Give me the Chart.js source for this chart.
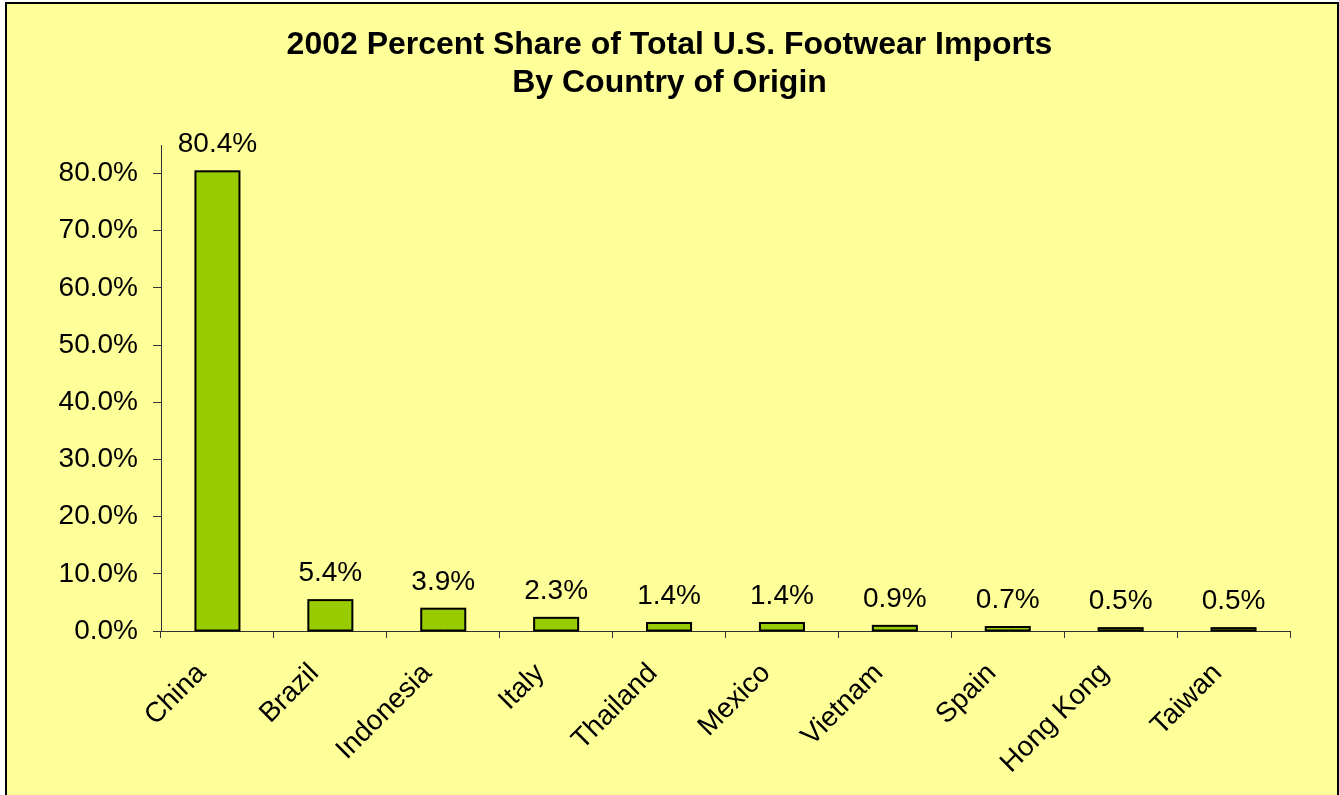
<!DOCTYPE html>
<html>
<head>
<meta charset="utf-8">
<script src="https://cdn.jsdelivr.net/npm/chart.js@4/dist/chart.umd.min.js"></script>
<style>
  html, body { margin: 0; padding: 0; background: #ffffff; }
  #wrap { width: 1339px; height: 795px; position: relative; }
</style>
</head>
<body>
<div id="wrap"><canvas id="c" width="1339" height="795"></canvas></div>
<script>
const categories = ['China', 'Brazil', 'Indonesia', 'Italy', 'Thailand', 'Mexico', 'Vietnam', 'Spain', 'Hong Kong', 'Taiwan'];
const shareValues = [80.4, 5.4, 3.9, 2.3, 1.4, 1.4, 0.9, 0.7, 0.5, 0.5];
const yTickValues = [0, 10, 20, 30, 40, 50, 60, 70, 80];
const titleLines = ['2002 Percent Share of Total U.S. Footwear Imports', 'By Country of Origin'];

const FONT = "'Liberation Sans', Arial, sans-serif";

const framePlugin = {
  id: 'frame',
  beforeDraw(chart) {
    const ctx = chart.ctx;
    ctx.save();
    ctx.fillStyle = '#ffffff';
    ctx.fillRect(0, 0, chart.width, chart.height);
    ctx.fillStyle = '#FFFF99';
    ctx.fillRect(6, 3, 1332, 800);
    ctx.strokeStyle = '#000000';
    ctx.lineWidth = 2;
    ctx.strokeRect(6, 3, 1332, 800);
    ctx.restore();
  }
};

// Excel-style bar outlines: stroke centred on each bar edge (from the library's bar geometry)
const barOutlinePlugin = {
  id: 'barOutline',
  afterDatasetsDraw(chart) {
    const ctx = chart.ctx;
    const meta = chart.getDatasetMeta(0);
    ctx.save();
    ctx.strokeStyle = '#000000';
    ctx.lineWidth = 2;
    meta.data.forEach((bar) => {
      const p = bar.getProps(['x', 'y', 'base', 'width'], true);
      ctx.strokeRect(p.x - p.width / 2, p.y, p.width, p.base - p.y);
    });
    ctx.restore();
  }
};

const valueLabelPlugin = {
  id: 'valueLabels',
  afterDatasetsDraw(chart) {
    const ctx = chart.ctx;
    const meta = chart.getDatasetMeta(0);
    ctx.save();
    ctx.font = '28px ' + FONT;
    ctx.fillStyle = '#000000';
    ctx.textAlign = 'center';
    ctx.textBaseline = 'alphabetic';
    meta.data.forEach((bar, i) => {
      const v = chart.data.datasets[0].data[i];
      ctx.fillText(v.toFixed(1) + '%', bar.x, bar.y - 19);
    });
    ctx.restore();
  }
};

new Chart(document.getElementById('c'), {
  type: 'bar',
  data: {
    labels: categories,
    datasets: [{
      data: shareValues,
      backgroundColor: '#99CC00',
      borderWidth: 0,
      inflateAmount: 0,
      categoryPercentage: 1.0,
      barPercentage: 0.39
    }]
  },
  options: {
    responsive: false,
    animation: false,
    devicePixelRatio: 1,
    layout: { padding: { left: 49, right: 49, top: 0, bottom: 0 } },
    plugins: {
      legend: { display: false },
      tooltip: { enabled: false },
      title: {
        display: true,
        text: titleLines,
        color: '#000000',
        font: { family: FONT, size: 32, weight: 'bold', lineHeight: 1.1875 },
        padding: { top: 26, bottom: 43 }
      }
    },
    scales: {
      x: {
        grid: { display: true, drawOnChartArea: false, drawTicks: true, tickLength: 7, color: '#333333', offset: true },
        border: { display: true, color: '#333333', width: 1 },
        ticks: {
          color: '#000000',
          font: { family: FONT, size: 28 },
          minRotation: 45,
          maxRotation: 45,
          autoSkip: false,
          padding: 19,
          labelOffset: -16
        },
        afterFit(scale) { scale.height = 164; }
      },
      y: {
        min: 0,
        max: 85,
        grid: { display: true, drawOnChartArea: false, drawTicks: true, tickLength: 8, color: '#333333' },
        border: { display: true, color: '#333333', width: 1 },
        ticks: {
          stepSize: 10,
          color: '#000000',
          font: { family: FONT, size: 28 },
          padding: 15,
          callback: (v) => Number(v).toFixed(1) + '%'
        },
        afterBuildTicks(scale) {
          scale.ticks = yTickValues.map(v => ({ value: v }));
        },
        afterFit(scale) { scale.width = 112; }
      }
    }
  },
  plugins: [framePlugin, barOutlinePlugin, valueLabelPlugin]
});
</script>
</body>
</html>
